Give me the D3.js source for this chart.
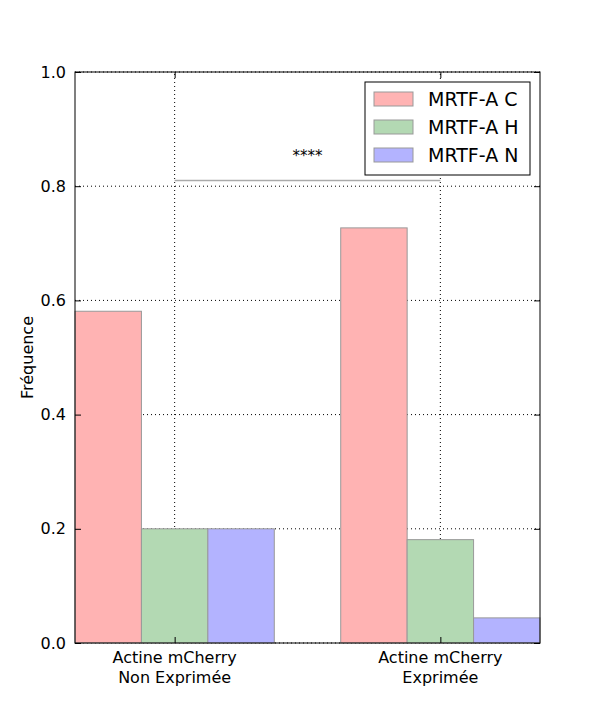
<!DOCTYPE html>
<html><head><meta charset="utf-8">
<script src="https://cdn.jsdelivr.net/npm/d3@7"></script>
<style>body{margin:0;background:#fff;} text{font-family:"DejaVu Sans",sans-serif;}</style>
</head><body><div id="graph"></div>
<script>
var groups = ["Actine mCherry\nNon Exprimée", "Actine mCherry\nExprimée"];
var series = ["MRTF-A C", "MRTF-A H", "MRTF-A N"];
var colors = ["#ffb3b3", "#b3d9b3", "#b3b3ff"];
var valuesC = [0.581, 0.727];
var valuesH = [0.2, 0.181];
var valuesN = [0.2, 0.044];
var yTicks = [0.0, 0.2, 0.4, 0.6, 0.8, 1.0];
var sigLevel = 0.81;
var sigLabel = "****";

var w = 600, h = 715;
var m = {left: 75, right: 60, top: 72, bottom: 72};
var bw = 0.25;

var vis = d3.select('#graph').append('svg').attr('width', w).attr('height', h);

var x = d3.scaleLinear().domain([-1.5 * bw, 1 + 1.5 * bw]).range([m.left, w - m.right]);
var y = d3.scaleLinear().domain([0, 1]).range([h - m.bottom, m.top]);

// grid
vis.selectAll('.gx').data([0, 1]).enter().append('line')
    .attr('x1', function(d) { return x(d); }).attr('x2', function(d) { return x(d); })
    .attr('y1', y(0)).attr('y2', y(1))
    .attr('stroke', 'black').attr('stroke-dasharray', '1,3');
vis.selectAll('.gy').data(yTicks).enter().append('line')
    .attr('x1', x.range()[0]).attr('x2', x.range()[1])
    .attr('y1', function(d) { return y(d); }).attr('y2', function(d) { return y(d); })
    .attr('stroke', 'black').attr('stroke-dasharray', '1,3');

var all = [valuesC, valuesH, valuesN];
var bars = [];
all.forEach(function(vals, s) {
    vals.forEach(function(v, g) { bars.push({s: s, g: g, v: v}); });
});
vis.selectAll('.bar').data(bars).enter().append('rect')
    .attr('x', function(d) { return x(d.g + (d.s - 1.5) * bw); })
    .attr('width', function(d) { return x(bw) - x(0); })
    .attr('y', function(d) { return y(d.v); })
    .attr('height', function(d) { return y(0) - y(d.v); })
    .attr('fill', function(d) { return colors[d.s]; })
    .attr('stroke', '#999').attr('stroke-width', 1);

// significance
vis.append('line').attr('x1', x(0)).attr('x2', x(1))
    .attr('y1', y(sigLevel)).attr('y2', y(sigLevel))
    .attr('stroke', '#aaa').attr('stroke-width', 1.5);
vis.append('text').attr('x', (x(0) + x(1)) / 2).attr('y', y(sigLevel) - 19)
    .attr('text-anchor', 'middle').attr('font-size', 15).text(sigLabel);

// frame
vis.append('rect').attr('x', m.left).attr('y', m.top)
    .attr('width', w - m.left - m.right).attr('height', h - m.top - m.bottom)
    .attr('fill', 'none').attr('stroke', 'black');

// y axis
var ya = vis.append('g').attr('transform', 'translate(' + m.left + ',0)')
    .call(d3.axisLeft(y).tickValues(yTicks).tickFormat(d3.format('.1f')).tickSize(-6).tickPadding(9));
ya.select('.domain').remove();
ya.selectAll('text').attr('font-size', 16).attr('font-family', 'DejaVu Sans').attr('fill', 'black');
vis.append('g').attr('transform', 'translate(' + (w - m.right) + ',0)')
    .call(d3.axisRight(y).tickValues(yTicks).tickSize(-6).tickFormat(''))
    .select('.domain').remove();

// x axis
var xa = vis.append('g').attr('transform', 'translate(0,' + (h - m.bottom) + ')')
    .call(d3.axisBottom(x).tickValues([0, 1]).tickSize(-6).tickFormat(''));
xa.select('.domain').remove();
vis.append('g').attr('transform', 'translate(0,' + m.top + ')')
    .call(d3.axisTop(x).tickValues([0, 1]).tickSize(-6).tickFormat(''))
    .select('.domain').remove();
groups.forEach(function(g, i) {
    var t = vis.append('text').attr('x', x(i)).attr('y', h - m.bottom + 20)
        .attr('text-anchor', 'middle').attr('font-size', 16);
    g.split('\n').forEach(function(line, k) {
        t.append('tspan').attr('x', x(i)).attr('dy', k ? 20 : 0).text(line);
    });
});

vis.append('text').attr('transform', 'translate(33,' + y(0.5) + ') rotate(-90)')
    .attr('text-anchor', 'middle').attr('font-size', 16).text('Fréquence');

// legend
var lg = vis.append('g').attr('transform', 'translate(365,82)');
lg.append('rect').attr('width', 165).attr('height', 93).attr('fill', 'white').attr('stroke', 'black');
series.forEach(function(s, i) {
    lg.append('rect').attr('x', 9).attr('y', 10 + i * 28).attr('width', 39).attr('height', 14)
        .attr('fill', colors[i]).attr('stroke', '#999');
    lg.append('text').attr('x', 63).attr('y', 24 + i * 28).attr('font-size', 19).text(s);
});
</script></body></html>
